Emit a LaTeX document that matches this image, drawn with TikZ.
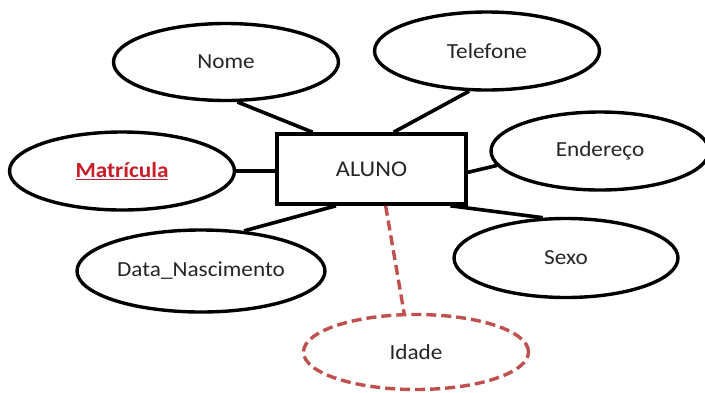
\documentclass[tikz,border=0pt]{standalone}
\usepackage{fontspec}
\setmainfont{Carlito}[FakeStretch=1.08]
\usetikzlibrary{shapes.geometric}
\definecolor{attrred}{RGB}{192,80,77}
\definecolor{keyred}{RGB}{200,30,40}
\begin{document}
\begin{tikzpicture}[x=1pt,y=-1pt,
  attr/.style={draw, ellipse, line width=3.4pt, inner sep=0pt, fill=white,
    font=\fontsize{21.5}{24}\selectfont, text=black!85},
  entity/.style={draw, rectangle, line width=3.6pt, inner sep=0pt,
    minimum width=189pt, minimum height=70pt, fill=white,
    font=\fontsize{22.5}{26}\selectfont, text=black!85},
  link/.style={line width=3.6pt},
  derived/.style={draw=attrred, line width=3.4pt, dash pattern=on 10pt off 5pt}]
\useasboundingbox (0,0) rectangle (705,392);
% the entity and its attributes
\node[entity] (aluno) at (371.5,169) {ALUNO};
\node[attr, minimum width=225pt, minimum height=77pt] (nome) at (226,62) {Nome};
\node[attr, minimum width=225pt, minimum height=78pt] (tel) at (487,51) {Telefone};
\node[attr, minimum width=218pt, minimum height=78pt] (end) at (600,151) {Endereço};
\node[attr, minimum width=225pt, minimum height=78pt] (mat) at (122,171)
  {\textcolor{keyred}{\bfseries\underline{Matrícula}}};
\node[attr, minimum width=248pt, minimum height=82pt] (data) at (201,271) {Data\_Nascimento};
\node[attr, minimum width=224pt, minimum height=79pt] (sexo) at (566,258) {Sexo};
\node[attr, draw=attrred, dash pattern=on 10pt off 5pt, minimum width=225pt, minimum height=75pt]
  (idade) at (416,352) {Idade};
% links between the entity and its attributes
\draw[link] (nome.-74) -- (aluno.148);
\draw[link] (tel.-114) -- (aluno.59);
\draw[link] (end.188) -- (aluno.-2);
\draw[link] (sexo.120) -- (aluno.-25);
\draw[link] (data.43) -- (aluno.-134);
\draw[link] (mat.east) -- (mat.east -| aluno.west);
\draw[derived] (aluno.-69) -- (idade.107);
\end{tikzpicture}
\end{document}
